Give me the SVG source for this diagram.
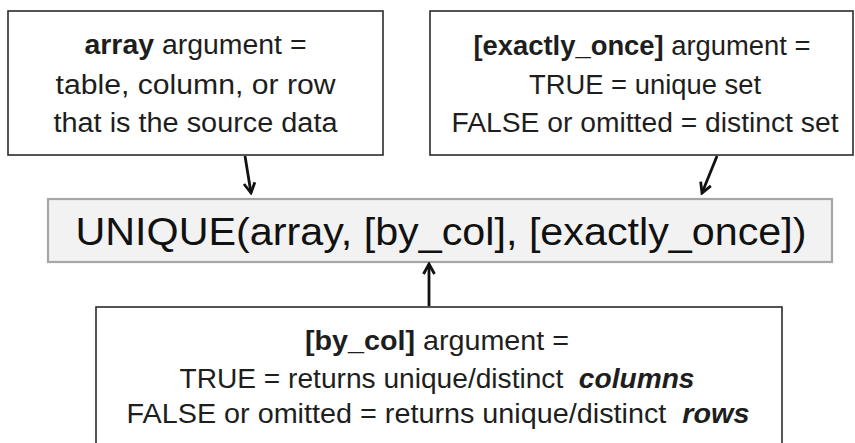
<svg xmlns="http://www.w3.org/2000/svg" width="855" height="443" viewBox="0 0 855 443">
  <style>
    .box { fill: #ffffff; stroke: #2b2b2b; stroke-width: 1.6; }
    .main { fill: #f2f2f2; stroke: #a6a6a6; stroke-width: 2.2; }
    .t { font-family: "Liberation Sans", Arial, sans-serif; font-size: 27px; fill: #1e1e1e; text-anchor: middle; }
    .mt { font-family: "Liberation Sans", Arial, sans-serif; font-size: 38px; fill: #111111; text-anchor: middle; }
    .b { font-weight: bold; }
    .bi { font-weight: bold; font-style: italic; }
    .conn { stroke: #111111; stroke-width: 2.8; fill: none; }
  </style>
  <defs>
    <marker id="arr" viewBox="0 0 14 14" refX="11.5" refY="7" markerWidth="14" markerHeight="14" markerUnits="userSpaceOnUse" orient="auto">
      <path d="M1.5,1.5 L11.5,7 L1.5,12.5" fill="none" stroke="#111111" stroke-width="2.8" stroke-linejoin="miter"/>
    </marker>
  </defs>
  <rect width="855" height="443" fill="#ffffff"/>

  <g id="node-array">
    <rect class="box" x="8" y="11" width="375" height="144"/>
    <text class="t" x="195.5" y="54" textLength="222" lengthAdjust="spacingAndGlyphs"><tspan class="b">array</tspan> argument =</text>
    <text class="t" x="195.5" y="94" textLength="280" lengthAdjust="spacingAndGlyphs">table, column, or row</text>
    <text class="t" x="195.5" y="132" textLength="284" lengthAdjust="spacingAndGlyphs">that is the source data</text>
  </g>

  <g id="node-exactly-once">
    <rect class="box" x="430" y="11" width="423" height="144"/>
    <text class="t" x="642" y="55" textLength="337" lengthAdjust="spacingAndGlyphs"><tspan class="b">[exactly_once]</tspan> argument =</text>
    <text class="t" x="645" y="94" textLength="232" lengthAdjust="spacingAndGlyphs">TRUE = unique set</text>
    <text class="t" x="645" y="132" textLength="387" lengthAdjust="spacingAndGlyphs">FALSE or omitted = distinct set</text>
  </g>

  <g id="node-unique">
    <rect class="main" x="48" y="199" width="784" height="63"/>
    <text class="mt" x="441" y="245" textLength="731" lengthAdjust="spacingAndGlyphs">UNIQUE(array, [by_col], [exactly_once])</text>
  </g>

  <g id="node-by-col">
    <rect class="box" x="96" y="307" width="686" height="160"/>
    <text class="t" x="437" y="350" textLength="264" lengthAdjust="spacingAndGlyphs"><tspan class="b">[by_col]</tspan> argument =</text>
    <text class="t" x="437" y="388" textLength="515" lengthAdjust="spacingAndGlyphs" xml:space="preserve">TRUE = returns unique/distinct  <tspan class="bi">columns</tspan></text>
    <text class="t" x="438" y="423" textLength="623" lengthAdjust="spacingAndGlyphs" xml:space="preserve">FALSE or omitted = returns unique/distinct  <tspan class="bi">rows</tspan></text>
  </g>

  <g id="connectors">
    <line class="conn" x1="245" y1="156" x2="251" y2="193" marker-end="url(#arr)"/>
    <line class="conn" x1="717" y1="156" x2="702" y2="193" marker-end="url(#arr)"/>
    <line class="conn" x1="429" y1="306" x2="429" y2="264" marker-end="url(#arr)"/>
  </g>
</svg>
